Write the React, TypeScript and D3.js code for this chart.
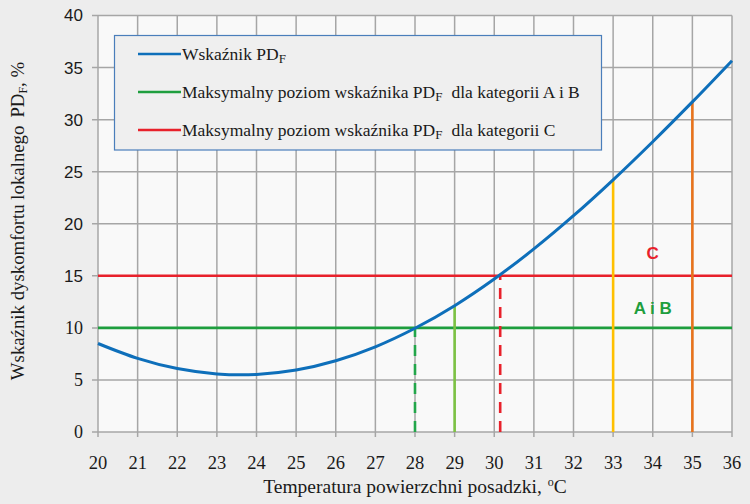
import React from "react";
import * as d3 from "d3";

const temps = [20, 21, 22, 23, 24, 25, 26, 27, 28, 29, 30, 31, 32, 33, 34, 35, 36];
const pdValues = [8.5, 7.07, 6.09, 5.58, 5.53, 5.95, 6.84, 8.18, 9.96, 12.13, 14.69, 17.58, 20.77, 24.22, 27.88, 31.7, 35.66];
const thresholdLevels = [10, 15];
const thresholdColors = ["#1e9e3e", "#e8212b"];
const markerTemps = [28, 29, 30.15, 33, 35];
const markerValues = [10, 12.13, 15, 24.22, 31.7];
const markerColors = ["#22a64a", "#7cc243", "#e8212b", "#ffc000", "#e8731c"];
const markerDashed = [true, false, true, false, false];
const xTicks = [20, 21, 22, 23, 24, 25, 26, 27, 28, 29, 30, 31, 32, 33, 34, 35, 36];
const yTicks = [0, 5, 10, 15, 20, 25, 30, 35, 40];
const legendLabels = ["Wskaźnik PD", "Maksymalny poziom wskaźnika PD", "Maksymalny poziom wskaźnika PD"];
const legendSuffix = ["", "dla kategorii A i B", "dla kategorii C"];
const legendColors = ["#0e6fba", "#1e9e3e", "#e8212b"];

export default function App() {
  const W = 750, H = 504;
  const left = 98, right = 732, top = 15.5, bottom = 432;
  const x = d3.scaleLinear().domain([20, 36]).range([left, right]);
  const y = d3.scaleLinear().domain([0, 40]).range([bottom, top]);
  const line = d3
    .line<number>()
    .x((_, i) => x(temps[i]))
    .y((d) => y(d))
    .curve(d3.curveCatmullRom);
  const serif = { fontFamily: "Liberation Serif" };
  const sans = { fontFamily: "Liberation Sans" };
  const grid = "#a6a6a6";

  return (
    <svg
      width={W}
      height={H}
      style={{ position: "absolute", left: 0, top: 0, display: "block" }}
    >
      <rect x={0} y={0} width={W} height={H} fill="#ededed" />
      <rect x={left} y={top} width={right - left} height={bottom - top} fill="#f9f9f9" />
      {xTicks.map((t) => (
        <line key={"gx" + t} x1={x(t)} x2={x(t)} y1={top} y2={bottom + 5} stroke={grid} strokeWidth={1.5} />
      ))}
      {yTicks.map((t) => (
        <line key={"gy" + t} x1={left - 6} x2={right} y1={y(t)} y2={y(t)} stroke={grid} strokeWidth={1.5} />
      ))}
      {yTicks.map((t) => (
        <text
          key={"ty" + t}
          x={left - 15}
          y={y(t)}
          dy="0.35em"
          textAnchor="end"
          style={t >= 15 ? sans : serif}
          fontSize={t >= 15 ? 17 : 18}
          fill="#1a1a1a"
        >
          {t}
        </text>
      ))}
      {xTicks.map((t) => (
        <text key={"tx" + t} x={x(t)} y={bottom + 37} textAnchor="middle" style={serif} fontSize={18.5} fill="#1a1a1a">
          {t}
        </text>
      ))}
      {thresholdLevels.map((v, i) => (
        <line key={"th" + v} x1={left} x2={right} y1={y(v)} y2={y(v)} stroke={thresholdColors[i]} strokeWidth={2.6} />
      ))}
      {markerTemps.map((t, i) => (
        <line
          key={"mk" + i}
          x1={x(t)}
          x2={x(t)}
          y1={y(0)}
          y2={y(markerValues[i])}
          stroke={markerColors[i]}
          strokeWidth={2.6}
          strokeDasharray={markerDashed[i] ? "11,8" : undefined}
        />
      ))}
      <path d={line(pdValues) || ""} fill="none" stroke="#0e6fba" strokeWidth={3} />
      <text x={x(34)} y={y(17.2)} dy="0.35em" textAnchor="middle" style={sans} fontWeight="bold" fontSize={17} fill="#e8212b">
        C
      </text>
      <text x={x(34)} y={y(11.9)} dy="0.35em" textAnchor="middle" style={sans} fontWeight="bold" fontSize={17} fill="#1e9e3e">
        A i B
      </text>
      <rect x={114.5} y={35.5} width={487} height={114.5} fill="#efefef" stroke="#4a7ebb" strokeWidth={1.2} />
      {legendLabels.map((l, i) => {
        const ly = 54 + i * 38;
        return (
          <g key={"lg" + i}>
            <line x1={138} x2={181} y1={ly} y2={ly} stroke={legendColors[i]} strokeWidth={2.6} />
            <text x={182} y={ly} dy="0.35em" style={serif} fontSize={17.5} fill="#1a1a1a">
              {l}
              <tspan fontSize={13} dy="3">F</tspan>
              <tspan dy="-3" dx="9">{legendSuffix[i]}</tspan>
            </text>
          </g>
        );
      })}
      <text x={415} y={493} textAnchor="middle" style={serif} fontSize={19.5} fill="#1a1a1a">
        Temperatura powierzchni posadzki,
        <tspan dx="6" fontSize={12} dy="-7">o</tspan>
        <tspan dy="7">C</tspan>
      </text>
      <text
        transform={`translate(24, ${221}) rotate(-90)`}
        textAnchor="middle"
        style={serif}
        fontSize={18.8}
        fill="#1a1a1a"
      >
        Wskaźnik dyskomfortu lokalnego
        <tspan dx="8">PD</tspan>
        <tspan fontSize={12} dy="3">F</tspan>
        <tspan dy="-3">, %</tspan>
      </text>
    </svg>
  );
}
